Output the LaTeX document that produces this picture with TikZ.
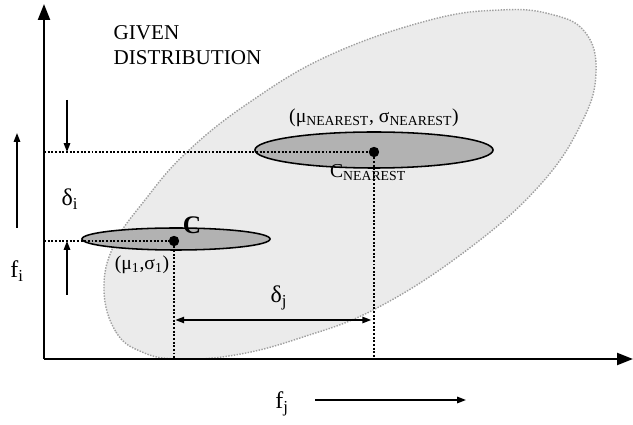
\documentclass[tikz,border=0pt]{standalone}
\usepackage{fontspec}
\setmainfont{Liberation Serif}
\usetikzlibrary{positioning,arrows.meta,calc,shapes.geometric}
\definecolor{distfill}{gray}{0.92}
\definecolor{clfill}{gray}{0.70}
\tikzset{
  axis/.style={line width=1.5pt, -{Triangle[length=4mm, width=3mm]}},
  arr/.style={line width=1pt, -{Triangle[length=2.2mm, width=1.6mm]}},
  guide/.style={line width=1.3pt, dash pattern=on 1.4pt off 1.2pt},
  dist/.style={draw=gray!75, fill=distfill, line width=1pt, dash pattern=on 1pt off 1pt},
  clus/.style={ellipse, draw, fill=clfill, line width=1.1pt, inner sep=0pt},
  ctr/.style={circle, fill, inner sep=0pt, minimum size=2.6mm},
  lbl/.style={inner sep=1pt, font=\fontsize{14}{16}\selectfont},
  big/.style={lbl, font=\fontsize{17}{19}\selectfont},
}
\begin{document}
\begin{tikzpicture}[x=0.025cm, y=-0.025cm]
\useasboundingbox (0,0) rectangle (633,425);
% given distribution
\draw[dist] plot[smooth cycle, tension=0.7] coordinates {(104,290) (116,332) (142,352)
  (178,359) (235,355) (300,338) (377,308) (467,250) (540,185) (582,122) (596,72)
  (585,32) (550,14) (500,10) (430,20) (330,55) (250,102) (187,152) (145,200) (114,245)};
\node[lbl, anchor=north west, align=left, font=\fontsize{15}{17.5}\selectfont] (given)
  at (112,24) {GIVEN\\DISTRIBUTION};
% clusters
\node[clus, minimum width=4.7cm, minimum height=0.55cm] (cl) at (176,239) {};
\node[clus, minimum width=5.95cm, minimum height=0.9cm] (cn) at (374,150) {};
\node[ctr] (cd) at (174,241) {};
\node[ctr] (cnd) at (374,152) {};
% axes
\coordinate (O) at (44,359);
\coordinate (ytop) at (44,4);
\coordinate (xend) at (633,359);
\draw[guide] (O |- cnd) -- (cnd);
\draw[guide] (O |- cd) -- (cd);
\draw[guide] (cd) -- (cd |- O);
\draw[guide] (cnd) -- (cnd |- O);
\draw[axis] (O) -- (ytop);
\draw[axis] (O) -- (xend);
% deltas
\coordinate (di1) at (67,100);
\coordinate (di2) at (67,295);
\draw[arr] (di1) -- (di1 |- cnd);
\draw[arr] (di2) -- (di2 |- cd);
\node[big] (di) at (70,199) {δ\textsubscript{i}};
\coordinate (dj) at (0,320);
\draw[arr, {Triangle[length=2.2mm, width=1.6mm]}-{Triangle[length=2.2mm, width=1.6mm]},
  shorten <=1pt, shorten >=2pt] (cd |- dj) -- (cnd |- dj);
\node[big] (djl) at (279,298) {δ\textsubscript{j}};
% feature arrows
\coordinate (fi1) at (17,228);
\coordinate (fi2) at (17,133);
\draw[arr] (fi1) -- (fi2);
\node[big] (fi) at (17,271) {f\textsubscript{i}};
\coordinate (fj1) at (315,400);
\coordinate (fj2) at (466,400);
\draw[arr] (fj1) -- (fj2);
\node[big] (fj) at (282,404) {f\textsubscript{j}};
% labels
\node[lbl, above=2pt of cn] (mun) {(μ\textsubscript{NEAREST}, σ\textsubscript{NEAREST})};
\node[lbl] (cnl) at (368,173) {C\textsubscript{NEAREST}};
\node[lbl, font=\fontsize{18}{20}\selectfont\bfseries] (cc) at (192,225) {C};
\node[lbl, font=\fontsize{14}{16}\selectfont] (mu1) at (142,265) {(μ\textsubscript{1},σ\textsubscript{1})};
\end{tikzpicture}
\end{document}
